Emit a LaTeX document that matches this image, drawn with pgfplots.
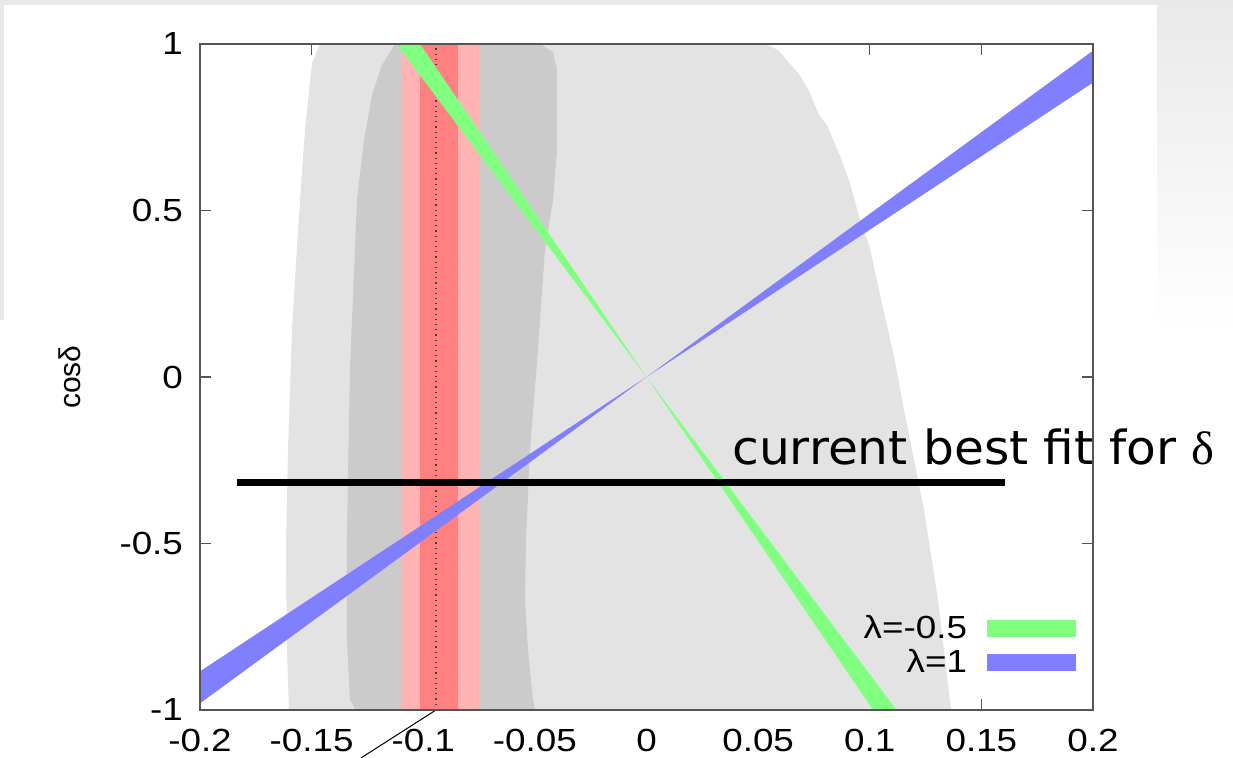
\documentclass[border=0pt]{standalone}
\usepackage{graphicx}
\usepackage{pgfplots}
\pgfplotsset{compat=1.18}
\usepackage{fontspec}
\setmainfont{Liberation Sans}
\newfontfamily\tickfont[FakeStretch=1.15]{Liberation Sans}
\newfontfamily\comicfont{DejaVu Sans}
\newfontfamily\serifgreek{Liberation Serif}
\definecolor{lgray}{RGB}{227,227,227}
\definecolor{dgray}{RGB}{203,203,203}
\definecolor{lred}{RGB}{255,179,179}
\definecolor{dred}{RGB}{255,128,128}
\definecolor{mgreen}{RGB}{128,255,128}
\definecolor{mblue}{RGB}{128,128,255}
\definecolor{framec}{RGB}{85,85,85}
\definecolor{slidegray}{RGB}{233,233,233}
\begin{document}
\begin{tikzpicture}
\useasboundingbox[fill=white] (0,0) rectangle (616.5pt,379pt);
\fill[slidegray] (0,376.5pt) rectangle (578.5pt,379pt);
\fill[slidegray] (0,219pt) rectangle (2pt,379pt);
\shade[top color=slidegray, bottom color=white] (578.5pt,214pt) rectangle (616.5pt,379pt);
\begin{axis}[
  at={(100pt,24pt)}, anchor=south west,
  width=446.5pt, height=333pt, scale only axis,
  xmin=-0.2, xmax=0.2, ymin=-1, ymax=1,
  xtick={-0.2,-0.15,-0.1,-0.05,0,0.05,0.1,0.15,0.2},
  xticklabels={-0.2,-0.15,-0.1,-0.05,0,0.05,0.1,0.15,0.2},
  ytick={-1,-0.5,0,0.5,1},
  yticklabels={-1,-0.5,0,0.5,1},
  scaled ticks=false,
  tick label style={font=\tickfont\fontsize{16}{19}\selectfont},
  xticklabel style={yshift=-6pt},
  yticklabel style={xshift=-5pt},
  major tick length=5.5pt,
  tick style={framec, line width=0.6pt},
  axis line style={framec, line width=0.7pt},
  ylabel={cosδ},
  ylabel style={at={(axis description cs:-0.1456,0.5)}, anchor=center, font=\fontsize{15}{18}\selectfont},
  clip=false,
  legend style={draw=none, fill=none, inner sep=0pt, outer sep=0pt,
    at={(axis cs:0.1924,-0.7087)}, anchor=north east,
    font=\tickfont\fontsize{16}{19}\selectfont, row sep=2.3pt, column sep=9pt,
    nodes={inner sep=1pt}},
  legend cell align=right,
  legend plot pos=right,
]
% outer light gray region
\addplot[fill=lgray, draw=none, forget plot] coordinates {
 (-0.14625,1) (-0.14983,0.943) (-0.15297,0.7417) (-0.15610,0.4414)
 (-0.15879,0.1411) (-0.16058,-0.2192) (-0.16148,-0.5195) (-0.16103,-0.8198)
 (-0.16013,-1)
 (0.13640,-1) (0.13057,-0.6697) (0.12430,-0.3994) (0.11534,-0.0991)
 (0.11086,0.0631) (0.10459,0.2462) (0.10011,0.3874) (0.09563,0.4715)
 (0.09115,0.5826) (0.08667,0.6637) (0.08085,0.7568) (0.07727,0.7868)
 (0.07279,0.8589) (0.06831,0.9099) (0.05891,0.982) (0.05309,1)
} -- cycle;
% inner dark gray region
\addplot[fill=dgray, draw=none, forget plot] coordinates {
 (-0.11265,1) (-0.11848,0.9369) (-0.12296,0.8468) (-0.12654,0.7117)
 (-0.12968,0.5315) (-0.13281,0.0300) (-0.13416,-0.4685) (-0.13416,-0.7898)
 (-0.13281,-0.9700) (-0.13012,-1)
 (-0.04994,-1) (-0.05084,-0.97) (-0.05308,-0.8198) (-0.05442,-0.6697)
 (-0.05397,-0.4895) (-0.05218,-0.2192) (-0.04860,0.0811) (-0.04547,0.3814)
 (-0.04188,0.5315) (-0.04009,0.6817) (-0.04009,0.9219) (-0.04188,0.976)
 (-0.04771,1)
} -- cycle;
% red bands
\addplot[fill=lred, draw=none, forget plot] coordinates {
 (-0.1095,-1) (-0.0746,-1) (-0.0746,1) (-0.1095,1)} -- cycle;
\addplot[fill=dred, draw=none, forget plot] coordinates {
 (-0.1015,-1) (-0.0844,-1) (-0.0844,1) (-0.1015,1)} -- cycle;
\addplot[black!75, dotted, line width=0.6pt, forget plot] coordinates {
 (-0.0943,-1) (-0.0943,1)};
% lambda = -0.5
\addplot[fill=mgreen, draw=none,
  legend image code/.code={\fill[mgreen] (0pt,-4.25pt) rectangle (44.5pt,4.25pt);}]
  coordinates {(-0.112,1) (-0.1015,1) (0.1015,-1) (0.112,-1)} -- cycle;
\addlegendentry{λ=-0.5}
% lambda = 1
\addplot[fill=mblue, draw=none,
  legend image code/.code={\fill[mblue] (0pt,-4.25pt) rectangle (44.5pt,4.25pt);}]
  coordinates {(-0.2,-0.884) (-0.2,-0.98) (0.2,0.98) (0.2,0.884)} -- cycle;
\addlegendentry{λ=1}
% current best fit line
\addplot[black, line width=3.5pt, forget plot] coordinates {
 (-0.1834,-0.318) (0.1606,-0.318)};
% pointer
\addplot[black, line width=0.5pt, forget plot] coordinates {
 (-0.0943,-1) (-0.1279,-1.1441)};
\draw[framec, line width=0.7pt] (rel axis cs:0,0) rectangle (rel axis cs:1,1);
\node[anchor=base west, inner sep=0pt] at (axis cs:0.0383,-0.2613)
  {\resizebox{241pt}{17.85pt}{\comicfont current best fit for \serifgreek δ}};
\end{axis}
\end{tikzpicture}
\end{document}
